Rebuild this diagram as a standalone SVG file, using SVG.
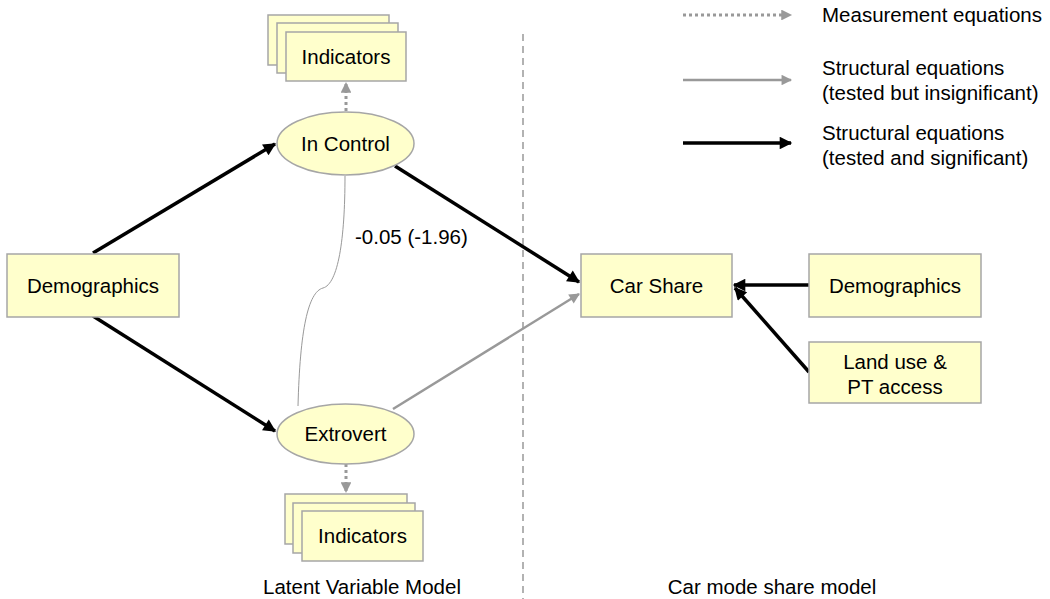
<svg xmlns="http://www.w3.org/2000/svg" width="1050" height="599" viewBox="0 0 1050 599">
<defs>
<style>
text{font-family:"Liberation Sans",Arial,sans-serif;font-size:20.5px;fill:#000}
.c{text-anchor:middle}
.box{fill:#FFFFCC;stroke:#A6A6A6;stroke-width:1.5}
.sig{stroke:#000;stroke-width:3.5;fill:none}
.ins{stroke:#999;stroke-width:2.5;fill:none}
.meas{stroke:#999;stroke-width:3;stroke-dasharray:3 3;fill:none}
.div{stroke:#999;stroke-width:1.5;stroke-dasharray:7 5;fill:none}
.cov{stroke:#999;stroke-width:1;fill:none}
</style>
<marker id="ab" viewBox="0 0 10 10" refX="9" refY="5" markerWidth="4.3" markerHeight="3.6" orient="auto" markerUnits="strokeWidth"><path d="M0,0 L10,5 L0,10 z" fill="#000"/></marker>
<marker id="ag" viewBox="0 0 10 10" refX="9" refY="5" markerWidth="5" markerHeight="4.2" orient="auto" markerUnits="strokeWidth"><path d="M0,0 L10,5 L0,10 z" fill="#999"/></marker>
<marker id="am" viewBox="0 0 10 10" refX="9" refY="5" markerWidth="4.2" markerHeight="3.6" orient="auto" markerUnits="strokeWidth"><path d="M0,0 L10,5 L0,10 z" fill="#999"/></marker>
</defs>
<rect width="1050" height="599" fill="#fff"/>

<g id="connectors">
<line class="div" x1="523" y1="34" x2="523" y2="599"/>
<line class="sig" x1="93" y1="253" x2="275" y2="144" marker-end="url(#ab)"/>
<line class="sig" x1="93" y1="316" x2="275" y2="431" marker-end="url(#ab)"/>
<line class="sig" x1="395" y1="166" x2="579" y2="282" marker-end="url(#ab)"/>
<line class="ins" x1="393" y1="409" x2="579" y2="294" marker-end="url(#ag)"/>
<line class="sig" x1="809" y1="285" x2="734" y2="285" marker-end="url(#ab)"/>
<line class="sig" x1="809" y1="372" x2="735" y2="288" marker-end="url(#ab)"/>
<line class="meas" x1="346" y1="111" x2="346" y2="83" marker-end="url(#am)"/>
<line class="meas" x1="346" y1="464" x2="346" y2="492" marker-end="url(#am)"/>
<path class="cov" d="M345,176 C345,240 338,284 323,288 C308,292 300,330 298,406"/>
<text x="355" y="244">-0.05 (-1.96)</text>
</g>

<g id="legend">
<line class="meas" x1="683" y1="15" x2="791" y2="15" marker-end="url(#am)"/>
<text x="822" y="22">Measurement equations</text>
<line class="ins" x1="683" y1="80" x2="791" y2="80" marker-end="url(#ag)"/>
<text x="822" y="75">Structural equations</text>
<text x="822" y="100">(tested but insignificant)</text>
<line class="sig" x1="683" y1="143" x2="791" y2="143" marker-end="url(#ab)"/>
<text x="822" y="140">Structural equations</text>
<text x="822" y="165">(tested and significant)</text>
</g>

<g id="demographics-left">
<rect class="box" x="7" y="254" width="172" height="63"/>
<text class="c" x="93" y="293">Demographics</text>
</g>

<g id="indicators-top">
<rect class="box" x="268" y="15" width="121" height="50"/>
<rect class="box" x="277" y="23" width="121" height="50"/>
<rect class="box" x="286" y="32" width="120" height="49"/>
<text class="c" x="346" y="64">Indicators</text>
</g>

<g id="in-control">
<ellipse class="box" cx="345.5" cy="143.5" rx="68.5" ry="31.5"/>
<text class="c" x="345.5" y="151">In Control</text>
</g>

<g id="extrovert">
<ellipse class="box" cx="345.5" cy="434" rx="68.5" ry="30"/>
<text class="c" x="345.5" y="441">Extrovert</text>
</g>

<g id="indicators-bottom">
<rect class="box" x="285" y="494" width="122" height="50"/>
<rect class="box" x="293" y="503" width="122" height="50"/>
<rect class="box" x="302" y="511" width="121" height="50"/>
<text class="c" x="362.5" y="543">Indicators</text>
</g>

<g id="car-share">
<rect class="box" x="581" y="254" width="151" height="63"/>
<text class="c" x="656.5" y="293">Car Share</text>
</g>

<g id="demographics-right">
<rect class="box" x="809" y="254" width="172" height="63"/>
<text class="c" x="895" y="293">Demographics</text>
</g>

<g id="land-use">
<rect class="box" x="809" y="342" width="172" height="61"/>
<text class="c" x="895" y="369">Land use &amp;</text>
<text class="c" x="895" y="394">PT access</text>
</g>

<g id="section-labels">
<text class="c" x="362" y="594">Latent Variable Model</text>
<text class="c" x="772" y="594">Car mode share model</text>
</g>
</svg>
